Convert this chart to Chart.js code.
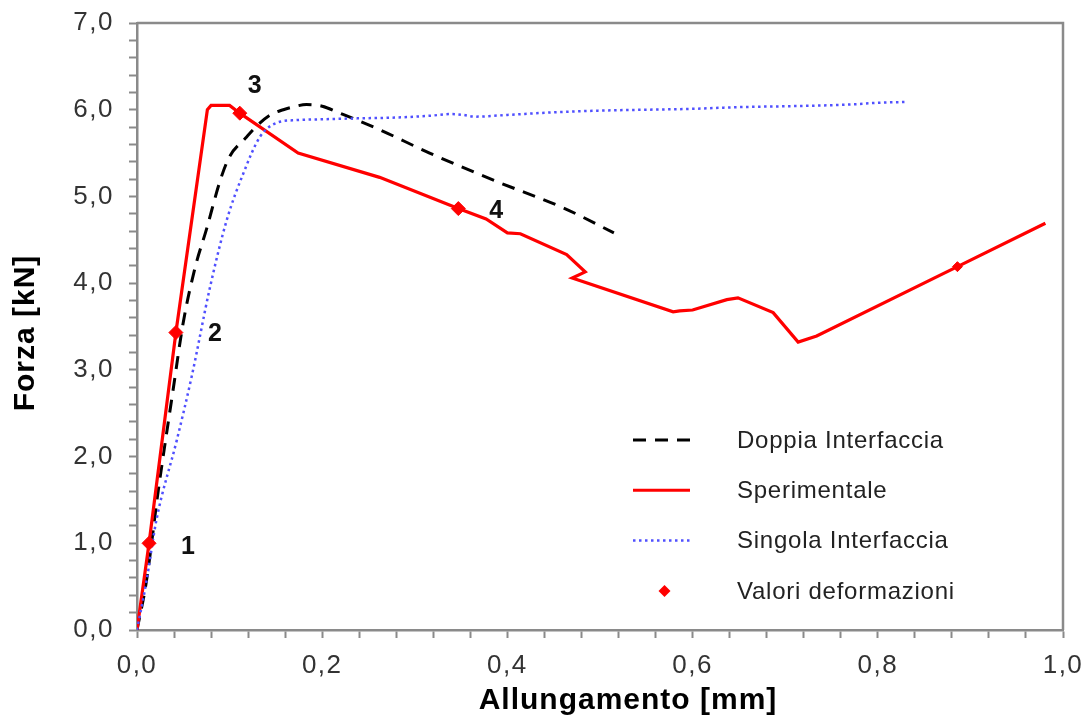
<!DOCTYPE html>
<html>
<head>
<meta charset="utf-8">
<script src="https://cdn.jsdelivr.net/npm/chart.js@4/dist/chart.umd.min.js"></script>
<style>
  html, body { margin: 0; padding: 0; background: #ffffff; }
  #wrap { width: 1091px; height: 722px; }
</style>
</head>
<body>
<div id="wrap"><canvas id="c" width="1091" height="722"></canvas></div>
<script>
// Prova sperimentale
const expX = [0, 0.013, 0.042, 0.076, 0.080, 0.100, 0.111, 0.174, 0.262, 0.347, 0.377, 0.400, 0.414, 0.464, 0.484, 0.470, 0.579, 0.586, 0.600, 0.637, 0.649, 0.687, 0.714, 0.734, 0.886, 0.981];
const expY = [0, 1.00, 3.43, 6.00, 6.05, 6.05, 5.96, 5.50, 5.22, 4.86, 4.74, 4.58, 4.57, 4.33, 4.13, 4.06, 3.67, 3.68, 3.69, 3.81, 3.83, 3.66, 3.32, 3.39, 4.19, 4.69];

// Modello a doppia interfaccia
const doppiaX = [0, 0.010, 0.023, 0.039, 0.050, 0.063, 0.075, 0.090, 0.100, 0.117, 0.130, 0.144, 0.158, 0.168, 0.183, 0.200, 0.219, 0.240, 0.262, 0.316, 0.389, 0.460, 0.515];
const doppiaY = [0, 0.55, 1.61, 2.77, 3.55, 4.19, 4.62, 5.19, 5.46, 5.67, 5.82, 5.94, 6.00, 6.03, 6.06, 6.04, 5.96, 5.87, 5.77, 5.50, 5.17, 4.87, 4.58];

// Modello a singola interfaccia
const singolaX = [0, 0.010, 0.021, 0.043, 0.059, 0.079, 0.097, 0.115, 0.133, 0.151, 0.172, 0.200, 0.237, 0.280, 0.316, 0.340, 0.352, 0.365, 0.400, 0.450, 0.500, 0.550, 0.600, 0.650, 0.700, 0.770, 0.800, 0.832];
const singolaY = [0, 0.55, 1.27, 2.19, 2.92, 3.96, 4.73, 5.27, 5.69, 5.85, 5.88, 5.89, 5.90, 5.91, 5.93, 5.95, 5.94, 5.92, 5.94, 5.97, 5.99, 6.00, 6.01, 6.03, 6.04, 6.06, 6.08, 6.09];

// Punti di lettura delle deformazioni
const markX = [0.013, 0.042, 0.111, 0.347, 0.886];
const markY = [1.00, 3.43, 5.96, 4.86, 4.19];
const markLabels = ['1', '2', '3', '4', ''];

// Assi
const xTickStep = 0.04, xLabelStep = 0.2;
const yTickStep = 0.2, yLabelStep = 1.0;

const toXY = (xs, ys) => xs.map((x, i) => ({ x: x, y: ys[i] }));
const isMultiple = (v, step) => Math.abs(v / step - Math.round(v / step)) < 1e-6;
const fmt = v => v.toFixed(1).replace('.', ',');

const FONT = "'Liberation Sans', Arial, sans-serif";
const AXIS_GREY = '#8a8a8a';

const legendItems = [
  { text: 'Doppia Interfaccia', color: '#000000', width: 3, dash: [13, 9] },
  { text: 'Sperimentale', color: '#ff0000', width: 3, dash: [] },
  { text: 'Singola Interfaccia', color: '#5050ff', width: 2.5, dash: [2.5, 3.5] },
  { text: 'Valori deformazioni', color: '#ff0000', marker: true }
];

// spaziatura dei caratteri solo durante il disegno (non durante il layout)
const spacingPlugin = {
  id: 'spacing',
  beforeDraw(chart) { chart.ctx.letterSpacing = '1.5px'; },
  afterDraw(chart) { chart.ctx.letterSpacing = '0px'; }
};

// l'area del grafico resta fissata dal solo layout.padding
function noScalePadding(scale) {
  scale.paddingTop = 0;
  scale.paddingBottom = 0;
  scale.paddingLeft = 0;
  scale.paddingRight = 0;
}

const framePlugin = {
  id: 'frame',
  beforeDatasetsDraw(chart) {
    const { ctx, chartArea: a } = chart;
    ctx.save();
    ctx.strokeStyle = AXIS_GREY;
    ctx.lineWidth = 2.5;
    ctx.beginPath();
    ctx.moveTo(a.left, a.top);
    ctx.lineTo(a.right, a.top);
    ctx.lineTo(a.right, a.bottom);
    ctx.stroke();
    ctx.restore();
  }
};

const annotatePlugin = {
  id: 'annotate',
  afterDraw(chart) {
    const { ctx, chartArea: a } = chart;
    ctx.save();
    // numeri dei punti
    const meta = chart.getDatasetMeta(0);
    const offs = [[39, 4], [39, 2], [15, -27], [38, 3], [0, 0]];
    ctx.letterSpacing = '0px';
    ctx.fillStyle = '#111111';
    ctx.font = 'bold 25px ' + FONT;
    ctx.textAlign = 'center';
    ctx.textBaseline = 'middle';
    meta.data.forEach((pt, i) => {
      if (!markLabels[i]) return;
      ctx.fillText(markLabels[i], pt.x + offs[i][0], pt.y + offs[i][1]);
    });

    // legenda
    const lx0 = a.left + 496, lx1 = a.left + 553, tx = a.left + 600;
    const y0 = a.top + 417, dy = 50.3;
    ctx.font = '24px ' + FONT;
    ctx.letterSpacing = '0.75px';
    ctx.textAlign = 'left';
    legendItems.forEach((it, i) => {
      const y = y0 + i * dy;
      if (it.marker) {
        const cx = (lx0 + lx1) / 2 + 3, r = 6;
        ctx.fillStyle = it.color;
        ctx.beginPath();
        ctx.moveTo(cx, y - r); ctx.lineTo(cx + r, y); ctx.lineTo(cx, y + r); ctx.lineTo(cx - r, y);
        ctx.closePath();
        ctx.fill();
      } else {
        ctx.strokeStyle = it.color;
        ctx.lineWidth = it.width;
        ctx.setLineDash(it.dash);
        ctx.beginPath();
        ctx.moveTo(lx0, y); ctx.lineTo(lx1, y);
        ctx.stroke();
        ctx.setLineDash([]);
      }
      ctx.fillStyle = '#222222';
      ctx.fillText(it.text, tx, y + 1);
    });

    // titoli degli assi
    ctx.fillStyle = '#000000';
    ctx.font = 'bold 30px ' + FONT;
    ctx.letterSpacing = '1px';
    ctx.textAlign = 'center';
    ctx.textBaseline = 'middle';
    ctx.fillText('Allungamento [mm]', 628, 701);
    ctx.translate(26, 333);
    ctx.rotate(-Math.PI / 2);
    ctx.fillText('Forza [kN]', 0, 0);
    ctx.restore();
  }
};

new Chart(document.getElementById('c'), {
  type: 'scatter',
  data: {
    datasets: [
      {
        label: 'Valori deformazioni',
        data: toXY(markX, markY),
        showLine: false,
        pointStyle: 'rectRot',
        pointRadius: [7, 7, 7, 7, 5],
        backgroundColor: '#ff0000',
        borderColor: '#ff0000',
        borderWidth: 1,
        order: 0
      },
      {
        label: 'Singola Interfaccia',
        data: toXY(singolaX, singolaY),
        showLine: true,
        pointRadius: 0,
        borderColor: '#5050ff',
        borderWidth: 2.5,
        borderDash: [2.5, 3.5],
        cubicInterpolationMode: 'monotone',
        order: 1
      },
      {
        label: 'Sperimentale',
        data: toXY(expX, expY),
        showLine: true,
        pointRadius: 0,
        borderColor: '#ff0000',
        borderWidth: 3.2,
        tension: 0,
        order: 2
      },
      {
        label: 'Doppia Interfaccia',
        data: toXY(doppiaX, doppiaY),
        showLine: true,
        pointRadius: 0,
        borderColor: '#000000',
        borderWidth: 3,
        borderDash: [13, 9],
        cubicInterpolationMode: 'monotone',
        order: 3
      }
    ]
  },
  options: {
    responsive: false,
    animation: false,
    devicePixelRatio: 1,
    layout: { padding: { top: 23, right: 28, left: 0, bottom: 0 } },
    plugins: {
      legend: { display: false },
      tooltip: { enabled: false }
    },
    scales: {
      x: {
        type: 'linear',
        min: 0,
        max: 1,
        afterFit(scale) { scale.height = 92; noScalePadding(scale); },
        ticks: {
          stepSize: xTickStep,
          autoSkip: false,
          maxRotation: 0,
          padding: 12,
          color: '#333333',
          font: { family: FONT, size: 26 },
          callback: v => isMultiple(v, xLabelStep) ? fmt(v) : ''
        },
        grid: {
          drawOnChartArea: false,
          drawTicks: true,
          tickLength: 8,
          tickWidth: 2,
          tickColor: AXIS_GREY
        },
        border: { color: AXIS_GREY, width: 2.5 }
      },
      y: {
        type: 'linear',
        min: 0,
        max: 7,
        afterFit(scale) { scale.width = 137; noScalePadding(scale); },
        ticks: {
          stepSize: yTickStep,
          autoSkip: false,
          padding: 15,
          color: '#333333',
          font: { family: FONT, size: 26 },
          callback: v => isMultiple(v, yLabelStep) ? fmt(v) : ''
        },
        grid: {
          drawOnChartArea: false,
          drawTicks: true,
          tickLength: 8,
          tickWidth: 2,
          tickColor: AXIS_GREY
        },
        border: { color: AXIS_GREY, width: 2.5 }
      }
    }
  },
  plugins: [spacingPlugin, framePlugin, annotatePlugin]
});
</script>
</body>
</html>
